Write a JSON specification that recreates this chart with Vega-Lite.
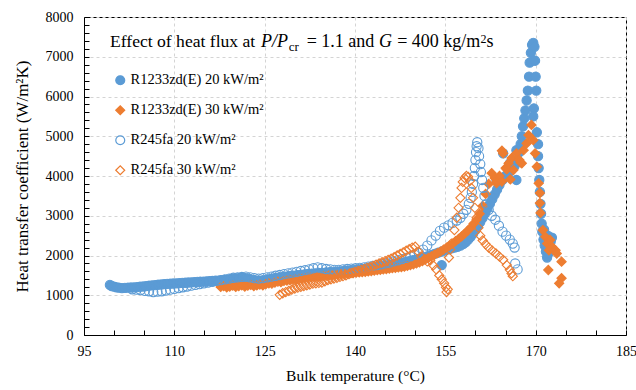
{
  "$schema": "https://vega.github.io/schema/vega-lite/v6.json",
  "width": 542,
  "height": 318,
  "autosize": "none",
  "padding": {"left": 84, "top": 17, "right": 10, "bottom": 55},
  "background": "white",
  "config": {
    "font": "Liberation Serif",
    "view": {"stroke": "black", "strokeWidth": 1},
    "text": {"font": "Liberation Serif", "color": "black", "align": "left", "baseline": "alphabetic"}
  },
  "resolve": {"axis": {"x": "independent", "y": "independent"}},
  "layer": [
    {
      "data": {"name": "pts"},
      "mark": {"type": "point", "opacity": 1, "strokeWidth": 1.1, "size": 85},
      "encoding": {
        "x": {"field": "T", "type": "quantitative", "scale": {"domain": [95, 185], "nice": false, "zero": false},
          "axis": {"orient": "bottom", "values": [95, 110, 125, 140, 155, 170, 185], "ticks": false, "labelFont": "Liberation Serif", "labelFontSize": 14, "labelColor": "black", "labelPadding": 9, "domainColor": "black", "grid": true, "gridDash": [3, 3], "gridColor": "#d4d4d4", "title": "Bulk temperature  (°C)", "titleFont": "Liberation Serif", "titleFontSize": 15.5, "titleFontWeight": "normal", "titleColor": "black", "titlePadding": 10, "labelFlush": false}},
        "y": {"field": "h", "type": "quantitative", "scale": {"domain": [0, 8000], "nice": false},
          "axis": {"orient": "left", "format": "d", "values": [0, 1000, 2000, 3000, 4000, 5000, 6000, 7000, 8000], "ticks": false, "labelFont": "Liberation Serif", "labelFontSize": 14, "labelColor": "black", "labelPadding": 11, "domainColor": "black", "grid": true, "gridDash": [3, 3], "gridColor": "#d4d4d4", "title": "Heat transfer  coefficient  (W/m²K)", "titleFont": "Liberation Serif", "titleFontSize": 17, "titleFontWeight": "normal", "titleColor": "black", "titlePadding": 14, "labelFlush": false}},
        "shape": {"field": "s", "type": "nominal", "scale": {"domain": ["a", "b", "c", "d"], "range": ["circle", "diamond", "circle", "diamond"]},
          "legend": {"orient": "none", "legendX": 29, "legendY": 56, "title": null, "labelFontSize": 14.5, "labelColor": "black", "labelFont": "Liberation Serif", "labelLimit": 0, "symbolSize": 80, "symbolStrokeWidth": 1.2, "rowPadding": 14, "labelOffset": 3, "padding": 0, "labelExpr": "{'a':'R1233zd(E) 20 kW/m²','b':'R1233zd(E) 30 kW/m²','c':'R245fa 20 kW/m²','d':'R245fa 30 kW/m²'}[datum.label]"}},
        "stroke": {"field": "s", "type": "nominal", "scale": {"domain": ["a", "b", "c", "d"], "range": ["#5b9bd5", "#ed7d31", "#5b9bd5", "#ed7d31"]},
          "legend": {"orient": "none", "legendX": 29, "legendY": 56, "title": null, "labelFontSize": 14.5, "labelColor": "black", "labelFont": "Liberation Serif", "labelLimit": 0, "symbolSize": 80, "symbolStrokeWidth": 1.2, "rowPadding": 14, "labelOffset": 3, "padding": 0, "labelExpr": "{'a':'R1233zd(E) 20 kW/m²','b':'R1233zd(E) 30 kW/m²','c':'R245fa 20 kW/m²','d':'R245fa 30 kW/m²'}[datum.label]"}},
        "fill": {"field": "s", "type": "nominal", "scale": {"domain": ["a", "b", "c", "d"], "range": ["#5b9bd5", "#ed7d31", "transparent", "transparent"]},
          "legend": {"orient": "none", "legendX": 29, "legendY": 56, "title": null, "labelFontSize": 14.5, "labelColor": "black", "labelFont": "Liberation Serif", "labelLimit": 0, "symbolSize": 80, "symbolStrokeWidth": 1.2, "rowPadding": 14, "labelOffset": 3, "padding": 0, "labelExpr": "{'a':'R1233zd(E) 20 kW/m²','b':'R1233zd(E) 30 kW/m²','c':'R245fa 20 kW/m²','d':'R245fa 30 kW/m²'}[datum.label]"}}
      }
    },
    {
      "data": {"values": [{}]},
      "mark": {"type": "text", "text": "Effect of heat flux at", "fontSize": 17.6},
      "encoding": {
        "x": {"datum": 99.32, "type": "quantitative", "axis": {"orient": "bottom", "offset": -5, "values": [95,100,105,110,115,120,125,130,135,140,145,150,155,160,165,170,175,180,185], "labels": false, "grid": false, "domain": false, "ticks": true, "tickSize": 5, "tickWidth": 1, "tickColor": "black", "title": null}},
        "y": {"datum": 7238, "type": "quantitative", "axis": {"orient": "left", "offset": -5, "values": [0,200,400,600,800,1000,1200,1400,1600,1800,2000,2200,2400,2600,2800,3000,3200,3400,3600,3800,4000,4200,4400,4600,4800,5000,5200,5400,5600,5800,6000,6200,6400,6600,6800,7000,7200,7400,7600,7800,8000], "labels": false, "grid": false, "domain": false, "ticks": true, "tickSize": 5, "tickWidth": 1, "tickColor": "black", "title": null}}
      }
    },
    {
      "data": {"values": [{}]},
      "mark": {"type": "text", "text": "P/P", "fontSize": 18, "fontStyle": "italic"},
      "encoding": {"x": {"datum": 124.4, "type": "quantitative", "axis": null}, "y": {"datum": 7238, "type": "quantitative", "axis": null}}
    },
    {
      "data": {"values": [{}]},
      "mark": {"type": "text", "text": "cr", "fontSize": 13},
      "encoding": {"x": {"datum": 129.0, "type": "quantitative", "axis": null}, "y": {"datum": 7152, "type": "quantitative", "axis": null}}
    },
    {
      "data": {"values": [{}]},
      "mark": {"type": "text", "text": "= 1.1 and", "fontSize": 18},
      "encoding": {"x": {"datum": 131.98, "type": "quantitative", "axis": null}, "y": {"datum": 7238, "type": "quantitative", "axis": null}}
    },
    {
      "data": {"values": [{}]},
      "mark": {"type": "text", "text": "G", "fontSize": 18, "fontStyle": "italic"},
      "encoding": {"x": {"datum": 144.0, "type": "quantitative", "axis": null}, "y": {"datum": 7238, "type": "quantitative", "axis": null}}
    },
    {
      "data": {"values": [{}]},
      "mark": {"type": "text", "text": "= 400 kg/m", "fontSize": 18},
      "encoding": {"x": {"datum": 147.0, "type": "quantitative", "axis": null}, "y": {"datum": 7238, "type": "quantitative", "axis": null}}
    },
    {
      "data": {"values": [{}]},
      "mark": {"type": "text", "text": "2", "fontSize": 12},
      "encoding": {"x": {"datum": 160.85, "type": "quantitative", "axis": null}, "y": {"datum": 7346, "type": "quantitative", "axis": null}}
    },
    {
      "data": {"values": [{}]},
      "mark": {"type": "text", "text": "s", "fontSize": 18},
      "encoding": {"x": {"datum": 161.85, "type": "quantitative", "axis": null}, "y": {"datum": 7238, "type": "quantitative", "axis": null}}
    }
  ],
  "datasets": {
    "pts": [
      {"s":"a","T":99.3,"h":1260},{"s":"a","T":99.6,"h":1230},{"s":"a","T":100.0,"h":1215},{"s":"a","T":100.4,"h":1200},{"s":"a","T":100.8,"h":1190},{"s":"a","T":101.3,"h":1180},{"s":"a","T":101.8,"h":1185},{"s":"a","T":102.3,"h":1190},{"s":"a","T":102.8,"h":1195},{"s":"a","T":103.3,"h":1200},{"s":"a","T":103.8,"h":1205},{"s":"a","T":104.3,"h":1215},{"s":"a","T":104.8,"h":1220},{"s":"a","T":105.3,"h":1230},{"s":"a","T":105.8,"h":1240},{"s":"a","T":106.3,"h":1250},{"s":"a","T":106.8,"h":1255},{"s":"a","T":107.3,"h":1265},{"s":"a","T":107.8,"h":1270},{"s":"a","T":108.3,"h":1280},{"s":"a","T":108.8,"h":1285},{"s":"a","T":109.3,"h":1290},{"s":"a","T":109.8,"h":1295},{"s":"a","T":110.3,"h":1300},{"s":"a","T":110.8,"h":1305},{"s":"a","T":111.3,"h":1310},{"s":"a","T":111.8,"h":1315},{"s":"a","T":112.3,"h":1320},{"s":"a","T":112.8,"h":1325},{"s":"a","T":113.3,"h":1330},{"s":"a","T":113.8,"h":1335},{"s":"a","T":114.3,"h":1340},{"s":"a","T":114.8,"h":1345},{"s":"a","T":115.3,"h":1350},{"s":"a","T":115.8,"h":1355},{"s":"a","T":116.3,"h":1360},{"s":"a","T":116.8,"h":1365},{"s":"a","T":117.3,"h":1370},{"s":"a","T":117.8,"h":1375},{"s":"a","T":118.3,"h":1385},{"s":"a","T":118.8,"h":1395},{"s":"a","T":119.3,"h":1405},{"s":"a","T":119.8,"h":1415},{"s":"a","T":120.3,"h":1425},{"s":"a","T":120.8,"h":1430},{"s":"a","T":121.3,"h":1435},{"s":"a","T":121.8,"h":1430},{"s":"a","T":122.3,"h":1415},{"s":"a","T":122.8,"h":1395},{"s":"a","T":123.3,"h":1380},{"s":"a","T":123.8,"h":1370},{"s":"a","T":124.3,"h":1365},{"s":"a","T":124.8,"h":1375},{"s":"a","T":125.3,"h":1390},{"s":"a","T":125.8,"h":1405},{"s":"a","T":126.3,"h":1420},{"s":"a","T":126.8,"h":1435},{"s":"a","T":127.3,"h":1445},{"s":"a","T":127.8,"h":1455},{"s":"a","T":128.3,"h":1465},{"s":"a","T":128.8,"h":1475},{"s":"a","T":129.3,"h":1485},{"s":"a","T":129.8,"h":1495},{"s":"a","T":130.4,"h":1505},{"s":"a","T":131.0,"h":1515},{"s":"a","T":131.6,"h":1525},{"s":"a","T":132.2,"h":1535},{"s":"a","T":132.8,"h":1545},{"s":"a","T":133.4,"h":1550},{"s":"a","T":134.0,"h":1560},{"s":"a","T":134.6,"h":1565},{"s":"a","T":135.2,"h":1575},{"s":"a","T":135.8,"h":1580},{"s":"a","T":136.4,"h":1590},{"s":"a","T":137.0,"h":1595},{"s":"a","T":137.6,"h":1600},{"s":"a","T":138.2,"h":1610},{"s":"a","T":138.8,"h":1620},{"s":"a","T":139.4,"h":1630},{"s":"a","T":140.0,"h":1640},{"s":"a","T":140.6,"h":1650},{"s":"a","T":141.2,"h":1660},{"s":"a","T":141.8,"h":1670},{"s":"a","T":142.4,"h":1685},{"s":"a","T":143.0,"h":1700},{"s":"a","T":143.6,"h":1715},{"s":"a","T":144.2,"h":1730},{"s":"a","T":144.8,"h":1745},{"s":"a","T":145.4,"h":1760},{"s":"a","T":146.0,"h":1775},{"s":"a","T":146.6,"h":1790},{"s":"a","T":147.2,"h":1805},{"s":"a","T":147.8,"h":1820},{"s":"a","T":148.4,"h":1840},{"s":"a","T":149.0,"h":1860},{"s":"a","T":149.6,"h":1880},{"s":"a","T":150.2,"h":1900},{"s":"a","T":150.8,"h":1925},{"s":"a","T":151.4,"h":1950},{"s":"a","T":152.0,"h":1980},{"s":"a","T":152.6,"h":2010},{"s":"a","T":153.2,"h":2040},{"s":"a","T":153.8,"h":2070},{"s":"a","T":154.4,"h":1760},{"s":"a","T":154.4,"h":2100},{"s":"a","T":155.0,"h":2130},{"s":"a","T":155.5,"h":2160},{"s":"a","T":156.0,"h":2180},{"s":"a","T":156.5,"h":2200},{"s":"a","T":157.0,"h":2220},{"s":"a","T":157.5,"h":2250},{"s":"a","T":158.0,"h":2290},{"s":"a","T":158.4,"h":2340},{"s":"a","T":158.8,"h":2400},{"s":"a","T":159.2,"h":2470},{"s":"a","T":159.6,"h":2550},{"s":"a","T":160.0,"h":2640},{"s":"a","T":160.4,"h":2740},{"s":"a","T":160.8,"h":2840},{"s":"a","T":161.2,"h":2950},{"s":"a","T":161.6,"h":3060},{"s":"a","T":162.0,"h":3180},{"s":"a","T":162.4,"h":3300},{"s":"a","T":162.8,"h":3420},{"s":"a","T":163.2,"h":3540},{"s":"a","T":163.5,"h":3900},{"s":"a","T":163.6,"h":3660},{"s":"a","T":164.0,"h":3780},{"s":"a","T":164.5,"h":3900},{"s":"a","T":164.6,"h":4570},{"s":"a","T":165.0,"h":4000},{"s":"a","T":165.5,"h":4080},{"s":"a","T":165.7,"h":4320},{"s":"a","T":166.0,"h":4160},{"s":"a","T":166.5,"h":4250},{"s":"a","T":166.8,"h":4650},{"s":"a","T":166.8,"h":3900},{"s":"a","T":167.0,"h":4400},{"s":"a","T":167.3,"h":4600},{"s":"a","T":167.5,"h":4800},{"s":"a","T":167.7,"h":5000},{"s":"a","T":168.0,"h":4820},{"s":"a","T":167.9,"h":5250},{"s":"a","T":168.1,"h":5450},{"s":"a","T":168.3,"h":5650},{"s":"a","T":168.5,"h":5900},{"s":"a","T":168.7,"h":6150},{"s":"a","T":168.9,"h":6500},{"s":"a","T":169.0,"h":6850},{"s":"a","T":169.2,"h":7100},{"s":"a","T":169.4,"h":7300},{"s":"a","T":169.6,"h":7350},{"s":"a","T":169.8,"h":7250},{"s":"a","T":169.9,"h":6900},{"s":"a","T":170.0,"h":6500},{"s":"a","T":170.1,"h":6150},{"s":"a","T":169.7,"h":5700},{"s":"a","T":169.6,"h":5500},{"s":"a","T":170.2,"h":5100},{"s":"a","T":170.4,"h":4800},{"s":"a","T":170.4,"h":4500},{"s":"a","T":170.5,"h":4200},{"s":"a","T":170.6,"h":3900},{"s":"a","T":170.7,"h":3600},{"s":"a","T":170.8,"h":3300},{"s":"a","T":170.9,"h":3050},{"s":"a","T":171.0,"h":2800},{"s":"a","T":171.1,"h":2600},{"s":"a","T":171.3,"h":2400},{"s":"a","T":171.5,"h":2250},{"s":"a","T":171.7,"h":2100},{"s":"a","T":171.9,"h":1950},{"s":"a","T":172.1,"h":2050},{"s":"a","T":172.3,"h":2200},{"s":"a","T":172.5,"h":2350},{"s":"a","T":172.7,"h":2450},{"s":"a","T":171.4,"h":2650},{"s":"a","T":172.0,"h":2500},
      {"s":"b","T":117.7,"h":1210},{"s":"b","T":118.2,"h":1230},{"s":"b","T":118.7,"h":1200},{"s":"b","T":119.2,"h":1220},{"s":"b","T":119.7,"h":1240},{"s":"b","T":120.2,"h":1210},{"s":"b","T":120.7,"h":1230},{"s":"b","T":121.2,"h":1250},{"s":"b","T":121.7,"h":1220},{"s":"b","T":122.2,"h":1240},{"s":"b","T":122.7,"h":1260},{"s":"b","T":123.2,"h":1230},{"s":"b","T":123.7,"h":1250},{"s":"b","T":124.2,"h":1270},{"s":"b","T":124.7,"h":1250},{"s":"b","T":125.2,"h":1280},{"s":"b","T":125.7,"h":1300},{"s":"b","T":126.2,"h":1290},{"s":"b","T":126.7,"h":1320},{"s":"b","T":127.2,"h":1340},{"s":"b","T":127.7,"h":1330},{"s":"b","T":128.2,"h":1360},{"s":"b","T":128.7,"h":1370},{"s":"b","T":129.2,"h":1380},{"s":"b","T":129.7,"h":1390},{"s":"b","T":130.2,"h":1400},{"s":"b","T":130.7,"h":1410},{"s":"b","T":131.2,"h":1420},{"s":"b","T":131.7,"h":1430},{"s":"b","T":132.2,"h":1440},{"s":"b","T":132.7,"h":1450},{"s":"b","T":133.2,"h":1460},{"s":"b","T":133.7,"h":1460},{"s":"b","T":134.2,"h":1470},{"s":"b","T":134.7,"h":1480},{"s":"b","T":135.2,"h":1490},{"s":"b","T":135.7,"h":1500},{"s":"b","T":136.2,"h":1500},{"s":"b","T":136.7,"h":1510},{"s":"b","T":137.2,"h":1520},{"s":"b","T":137.7,"h":1530},{"s":"b","T":138.2,"h":1540},{"s":"b","T":138.7,"h":1550},{"s":"b","T":139.2,"h":1555},{"s":"b","T":139.7,"h":1560},{"s":"b","T":140.2,"h":1570},{"s":"b","T":140.7,"h":1575},{"s":"b","T":141.2,"h":1580},{"s":"b","T":141.7,"h":1590},{"s":"b","T":142.2,"h":1600},{"s":"b","T":142.7,"h":1610},{"s":"b","T":143.2,"h":1620},{"s":"b","T":143.7,"h":1630},{"s":"b","T":144.2,"h":1640},{"s":"b","T":144.7,"h":1650},{"s":"b","T":145.2,"h":1660},{"s":"b","T":145.7,"h":1670},{"s":"b","T":146.2,"h":1680},{"s":"b","T":146.7,"h":1690},{"s":"b","T":147.2,"h":1700},{"s":"b","T":147.7,"h":1710},{"s":"b","T":148.2,"h":1720},{"s":"b","T":148.7,"h":1740},{"s":"b","T":149.2,"h":1760},{"s":"b","T":149.7,"h":1780},{"s":"b","T":150.2,"h":1800},{"s":"b","T":150.7,"h":1830},{"s":"b","T":151.2,"h":1860},{"s":"b","T":151.7,"h":1900},{"s":"b","T":152.2,"h":1940},{"s":"b","T":152.7,"h":1980},{"s":"b","T":153.2,"h":2020},{"s":"b","T":153.7,"h":2060},{"s":"b","T":154.2,"h":2100},{"s":"b","T":154.7,"h":2150},{"s":"b","T":155.2,"h":2200},{"s":"b","T":155.7,"h":2250},{"s":"b","T":156.2,"h":2300},{"s":"b","T":156.7,"h":2360},{"s":"b","T":157.2,"h":2420},{"s":"b","T":157.7,"h":2480},{"s":"b","T":158.2,"h":2550},{"s":"b","T":158.7,"h":2620},{"s":"b","T":159.2,"h":2700},{"s":"b","T":159.7,"h":2800},{"s":"b","T":160.2,"h":2900},{"s":"b","T":160.7,"h":3050},{"s":"b","T":161.2,"h":3250},{"s":"b","T":161.7,"h":3550},{"s":"b","T":162.2,"h":3800},{"s":"b","T":162.7,"h":4070},{"s":"b","T":163.2,"h":3950},{"s":"b","T":163.5,"h":3820},{"s":"b","T":163.6,"h":3870},{"s":"b","T":164.0,"h":4000},{"s":"b","T":164.4,"h":4635},{"s":"b","T":164.4,"h":3860},{"s":"b","T":164.6,"h":4570},{"s":"b","T":165.0,"h":4200},{"s":"b","T":165.2,"h":4170},{"s":"b","T":165.5,"h":4320},{"s":"b","T":165.8,"h":3915},{"s":"b","T":166.0,"h":4450},{"s":"b","T":166.3,"h":4150},{"s":"b","T":166.8,"h":4570},{"s":"b","T":167.3,"h":4400},{"s":"b","T":167.5,"h":4340},{"s":"b","T":167.7,"h":4320},{"s":"b","T":168.0,"h":4650},{"s":"b","T":168.5,"h":4820},{"s":"b","T":168.8,"h":5030},{"s":"b","T":169.3,"h":5285},{"s":"b","T":169.6,"h":4900},{"s":"b","T":169.9,"h":4570},{"s":"b","T":170.2,"h":4235},{"s":"b","T":170.5,"h":3815},{"s":"b","T":170.7,"h":3570},{"s":"b","T":170.7,"h":3320},{"s":"b","T":170.8,"h":3070},{"s":"b","T":171.2,"h":2640},{"s":"b","T":171.6,"h":2470},{"s":"b","T":171.9,"h":2300},{"s":"b","T":172.4,"h":2390},{"s":"b","T":172.7,"h":2220},{"s":"b","T":172.2,"h":2130},{"s":"b","T":173.3,"h":2130},{"s":"b","T":173.5,"h":2050},{"s":"b","T":174.3,"h":1845},{"s":"b","T":172.1,"h":1635},{"s":"b","T":174.3,"h":1430},{"s":"b","T":173.9,"h":1300},
      {"s":"c","T":103.0,"h":1150},{"s":"c","T":103.7,"h":1140},{"s":"c","T":104.4,"h":1130},{"s":"c","T":105.1,"h":1110},{"s":"c","T":105.8,"h":1100},{"s":"c","T":106.5,"h":1080},{"s":"c","T":107.2,"h":1090},{"s":"c","T":107.9,"h":1100},{"s":"c","T":108.6,"h":1120},{"s":"c","T":109.3,"h":1140},{"s":"c","T":110.0,"h":1160},{"s":"c","T":110.7,"h":1180},{"s":"c","T":111.4,"h":1200},{"s":"c","T":112.1,"h":1220},{"s":"c","T":112.8,"h":1240},{"s":"c","T":113.5,"h":1260},{"s":"c","T":114.2,"h":1280},{"s":"c","T":114.9,"h":1300},{"s":"c","T":115.6,"h":1320},{"s":"c","T":116.3,"h":1340},{"s":"c","T":117.0,"h":1360},{"s":"c","T":117.7,"h":1380},{"s":"c","T":118.4,"h":1400},{"s":"c","T":119.1,"h":1420},{"s":"c","T":119.8,"h":1440},{"s":"c","T":120.5,"h":1450},{"s":"c","T":121.2,"h":1460},{"s":"c","T":121.9,"h":1470},{"s":"c","T":122.6,"h":1450},{"s":"c","T":123.3,"h":1430},{"s":"c","T":124.0,"h":1420},{"s":"c","T":124.7,"h":1430},{"s":"c","T":125.4,"h":1450},{"s":"c","T":126.1,"h":1470},{"s":"c","T":126.8,"h":1490},{"s":"c","T":127.5,"h":1510},{"s":"c","T":128.2,"h":1530},{"s":"c","T":128.9,"h":1550},{"s":"c","T":129.6,"h":1570},{"s":"c","T":130.3,"h":1590},{"s":"c","T":131.0,"h":1610},{"s":"c","T":131.7,"h":1630},{"s":"c","T":132.4,"h":1650},{"s":"c","T":133.1,"h":1680},{"s":"c","T":133.8,"h":1700},{"s":"c","T":134.5,"h":1680},{"s":"c","T":135.2,"h":1660},{"s":"c","T":135.9,"h":1650},{"s":"c","T":136.6,"h":1640},{"s":"c","T":137.3,"h":1640},{"s":"c","T":138.0,"h":1650},{"s":"c","T":138.7,"h":1660},{"s":"c","T":139.4,"h":1670},{"s":"c","T":140.1,"h":1680},{"s":"c","T":140.8,"h":1690},{"s":"c","T":141.5,"h":1700},{"s":"c","T":142.2,"h":1720},{"s":"c","T":142.9,"h":1740},{"s":"c","T":143.6,"h":1760},{"s":"c","T":144.3,"h":1780},{"s":"c","T":145.0,"h":1800},{"s":"c","T":145.7,"h":1820},{"s":"c","T":146.4,"h":1850},{"s":"c","T":147.1,"h":1880},{"s":"c","T":147.8,"h":1910},{"s":"c","T":148.5,"h":1940},{"s":"c","T":149.2,"h":1980},{"s":"c","T":149.9,"h":2020},{"s":"c","T":150.6,"h":2070},{"s":"c","T":151.3,"h":2150},{"s":"c","T":152.0,"h":2250},{"s":"c","T":152.7,"h":2380},{"s":"c","T":153.4,"h":2500},{"s":"c","T":154.1,"h":2620},{"s":"c","T":154.8,"h":2700},{"s":"c","T":155.5,"h":2760},{"s":"c","T":156.2,"h":2820},{"s":"c","T":156.9,"h":2880},{"s":"c","T":157.5,"h":2950},{"s":"c","T":158.0,"h":3050},{"s":"c","T":158.5,"h":3150},{"s":"c","T":158.9,"h":3300},{"s":"c","T":159.2,"h":3450},{"s":"c","T":159.4,"h":3600},{"s":"c","T":159.6,"h":3800},{"s":"c","T":159.8,"h":4000},{"s":"c","T":159.9,"h":4200},{"s":"c","T":160.0,"h":4400},{"s":"c","T":160.1,"h":4600},{"s":"c","T":160.2,"h":4750},{"s":"c","T":160.3,"h":4850},{"s":"c","T":160.5,"h":4700},{"s":"c","T":160.6,"h":4500},{"s":"c","T":160.8,"h":4300},{"s":"c","T":160.9,"h":4100},{"s":"c","T":161.1,"h":3900},{"s":"c","T":161.3,"h":3700},{"s":"c","T":161.5,"h":3500},{"s":"c","T":161.8,"h":3300},{"s":"c","T":162.2,"h":3150},{"s":"c","T":162.7,"h":3000},{"s":"c","T":163.3,"h":2900},{"s":"c","T":163.9,"h":2750},{"s":"c","T":164.5,"h":2600},{"s":"c","T":165.1,"h":2500},{"s":"c","T":165.7,"h":2400},{"s":"c","T":166.2,"h":2300},{"s":"c","T":166.5,"h":2200},{"s":"c","T":166.6,"h":1800},{"s":"c","T":167.0,"h":1650},
      {"s":"d","T":127.5,"h":1010},{"s":"d","T":128.0,"h":1050},{"s":"d","T":128.5,"h":1080},{"s":"d","T":129.0,"h":1110},{"s":"d","T":129.5,"h":1140},{"s":"d","T":130.0,"h":1170},{"s":"d","T":130.5,"h":1190},{"s":"d","T":131.0,"h":1210},{"s":"d","T":131.5,"h":1230},{"s":"d","T":132.0,"h":1250},{"s":"d","T":132.5,"h":1270},{"s":"d","T":133.0,"h":1290},{"s":"d","T":133.5,"h":1300},{"s":"d","T":134.0,"h":1310},{"s":"d","T":134.5,"h":1320},{"s":"d","T":135.0,"h":1350},{"s":"d","T":135.5,"h":1380},{"s":"d","T":136.0,"h":1400},{"s":"d","T":136.5,"h":1420},{"s":"d","T":137.0,"h":1440},{"s":"d","T":137.5,"h":1460},{"s":"d","T":138.0,"h":1480},{"s":"d","T":138.5,"h":1500},{"s":"d","T":139.0,"h":1530},{"s":"d","T":139.5,"h":1560},{"s":"d","T":140.0,"h":1590},{"s":"d","T":140.5,"h":1610},{"s":"d","T":141.0,"h":1640},{"s":"d","T":141.5,"h":1660},{"s":"d","T":142.0,"h":1690},{"s":"d","T":142.5,"h":1710},{"s":"d","T":143.0,"h":1740},{"s":"d","T":143.5,"h":1770},{"s":"d","T":144.0,"h":1800},{"s":"d","T":144.5,"h":1830},{"s":"d","T":145.0,"h":1860},{"s":"d","T":145.5,"h":1890},{"s":"d","T":146.0,"h":1920},{"s":"d","T":146.5,"h":1960},{"s":"d","T":147.0,"h":2000},{"s":"d","T":147.5,"h":2040},{"s":"d","T":148.0,"h":2080},{"s":"d","T":148.5,"h":2120},{"s":"d","T":149.0,"h":2160},{"s":"d","T":149.5,"h":2200},{"s":"d","T":150.0,"h":2220},{"s":"d","T":150.5,"h":2100},{"s":"d","T":151.0,"h":1980},{"s":"d","T":151.5,"h":1900},{"s":"d","T":152.0,"h":1850},{"s":"d","T":152.5,"h":1880},{"s":"d","T":153.0,"h":1750},{"s":"d","T":153.5,"h":1650},{"s":"d","T":154.0,"h":1500},{"s":"d","T":154.4,"h":1400},{"s":"d","T":154.8,"h":1300},{"s":"d","T":155.1,"h":1200},{"s":"d","T":155.2,"h":1080},{"s":"d","T":155.4,"h":1150},{"s":"d","T":155.6,"h":1950},{"s":"d","T":155.8,"h":2150},{"s":"d","T":156.0,"h":2300},{"s":"d","T":156.5,"h":2640},{"s":"d","T":156.9,"h":2950},{"s":"d","T":157.2,"h":3200},{"s":"d","T":157.5,"h":3450},{"s":"d","T":157.7,"h":3700},{"s":"d","T":157.9,"h":3850},{"s":"d","T":158.2,"h":3950},{"s":"d","T":158.5,"h":4000},{"s":"d","T":158.8,"h":3980},{"s":"d","T":159.1,"h":3880},{"s":"d","T":159.3,"h":3700},{"s":"d","T":159.6,"h":3450},{"s":"d","T":159.9,"h":3200},{"s":"d","T":160.2,"h":2950},{"s":"d","T":160.5,"h":2700},{"s":"d","T":160.8,"h":2500},{"s":"d","T":161.2,"h":2380},{"s":"d","T":161.7,"h":2280},{"s":"d","T":162.2,"h":2200},{"s":"d","T":162.8,"h":2120},{"s":"d","T":163.4,"h":2050},{"s":"d","T":164.0,"h":1970},{"s":"d","T":164.6,"h":1890},{"s":"d","T":165.2,"h":1760},{"s":"d","T":165.7,"h":1640},{"s":"d","T":166.0,"h":1550},{"s":"d","T":166.2,"h":1480}
    ]
  }
}
